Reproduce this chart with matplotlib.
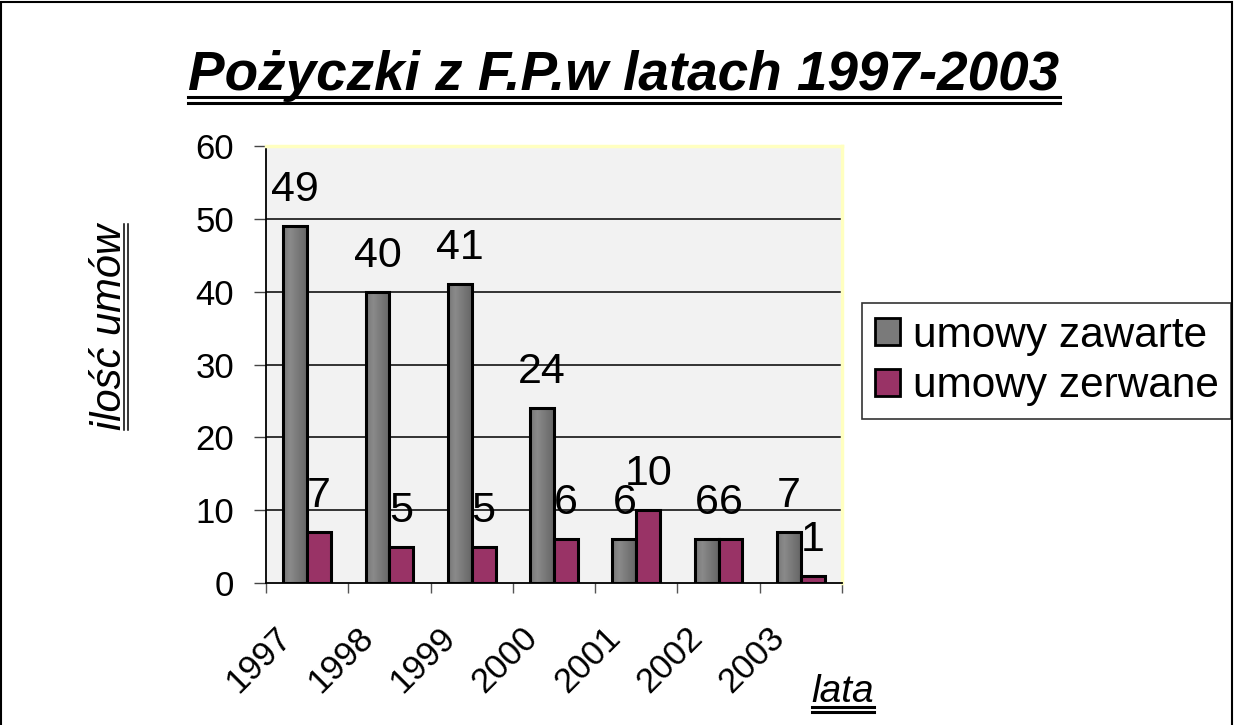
import numpy as np
import matplotlib
matplotlib.use('Agg')
import matplotlib.pyplot as plt
from matplotlib.patches import Patch, Rectangle
from matplotlib.lines import Line2D
from matplotlib.colors import LinearSegmentedColormap
import matplotlib.transforms as mtransforms

# dane z wykresu
lata = ['1997', '1998', '1999', '2000', '2001', '2002', '2003']
zawarte = [49, 40, 41, 24, 6, 6, 7]
zerwane = [7, 5, 5, 6, 10, 6, 1]
serie = ['umowy zawarte', 'umowy zerwane']
y_ticks = [0, 10, 20, 30, 40, 50, 60]

plt.rcParams['font.family'] = ['Liberation Sans', 'DejaVu Sans']

W, H = 1234, 725
fig = plt.figure(figsize=(W / 100, H / 100), dpi=100)
fig.patch.set_facecolor('white')


def px(x, y):
    # piksele (od lewego gornego rogu) -> wspolrzedne figury
    return x / W, 1 - y / H


ax = fig.add_axes([266 / W, 1 - 583 / H, (842 - 266) / W, (583 - 146) / H])
ax.set_facecolor('#F2F2F2')

x = np.arange(len(lata))
w = 0.29
szary = '#7a7a7a'
bordo = '#993366'

bars1 = ax.bar(x - w / 2, zawarte, w, facecolor='none', edgecolor='black',
               linewidth=2.2, zorder=3)
bars2 = ax.bar(x + w / 2, zerwane, w, facecolor=bordo, edgecolor='black',
               linewidth=2.2, zorder=3)

# gradient na szarych slupkach
cmap = LinearSegmentedColormap.from_list(
    'g', [(0, '#777777'), (0.3, '#8a8a8a'), (1, '#666666')])
grad = np.linspace(0, 1, 64).reshape(1, -1)
for b in bars1:
    bx, bw, bh = b.get_x(), b.get_width(), b.get_height()
    im = ax.imshow(grad, cmap=cmap, aspect='auto', zorder=2,
                   extent=(bx, bx + bw, 0, bh), interpolation='bilinear')
    im.set_clip_path(b)

ax.set_xlim(-0.5, len(lata) - 0.5)
ax.set_ylim(0, 60)

for yv in y_ticks[1:-1]:
    ax.axhline(yv, color='black', lw=1.1, zorder=1)

ax.set_yticks(y_ticks)
ax.tick_params(axis='y', direction='out', length=9, width=1, color='#444444',
               pad=14, labelsize=25)
ax.set_xticks(np.arange(-0.5, len(lata), 1))
ax.set_xticklabels([])
ax.tick_params(axis='x', direction='out', length=7, width=1, color='#555555')

for s in ['left', 'bottom']:
    ax.spines[s].set_color('black')
    ax.spines[s].set_linewidth(1.3)
for s in ['top', 'right']:
    ax.spines[s].set_color('#FFFFC0')
    ax.spines[s].set_linewidth(2.5)

# etykiety lat
off = mtransforms.ScaledTranslation(-33 / 100, -38 / 100, fig.dpi_scale_trans)
for i, rok in enumerate(lata):
    ax.text(i, 0, rok, transform=ax.get_xaxis_transform() + off,
            rotation=45, rotation_mode='anchor', ha='right', va='top',
            fontsize=25)

# wartosci nad slupkami
for xs, vals in [(x - w / 2, zawarte), (x + w / 2, zerwane)]:
    for xi, v in zip(xs, vals):
        ax.annotate(str(v), (xi, v), xytext=(0, 18), textcoords='offset points',
                    ha='center', va='baseline', fontsize=31)

# legenda
uchwyty = [Patch(facecolor=szary, edgecolor='black', linewidth=2),
           Patch(facecolor=bordo, edgecolor='black', linewidth=2)]
leg = fig.legend(uchwyty, serie, loc='upper left', bbox_to_anchor=px(862, 303),
                 fontsize=30.5, frameon=True, fancybox=False, edgecolor='black',
                 handlelength=0.6, handleheight=0.6, handletextpad=0.3,
                 labelspacing=0.25, borderpad=0.3, borderaxespad=0)
leg.get_frame().set_linewidth(1.2)

# tytul i opisy osi
t_title = fig.text(*px(624, 90), 'Pożyczki z F.P.w latach 1997-2003',
                   ha='center', va='baseline', fontsize=39.5,
                   fontweight='bold', fontstyle='italic')
t_y = fig.text(*px(121, 327), 'ilość umów', rotation=90, rotation_mode='anchor',
               ha='center', va='baseline', fontsize=30, fontstyle='italic')
t_x = fig.text(*px(843, 702), 'lata', ha='center', va='baseline',
               fontsize=28, fontstyle='italic')

fig.canvas.draw()
r = fig.canvas.get_renderer()


def podkresl_poziomo(t, ybase, d1, d2, lw):
    bb = t.get_window_extent(r)
    x0, x1 = bb.x0 / W, bb.x1 / W
    for d in (d1, d2):
        yy = 1 - (ybase + d) / H
        fig.add_artist(Line2D([x0, x1], [yy, yy], color='black', lw=lw))


podkresl_poziomo(t_title, 90, 7, 13, 2.2)
podkresl_poziomo(t_x, 702, 5, 10, 2.2)

bb = t_y.get_window_extent(r)
for xx in (124, 128):
    fig.add_artist(Line2D([xx / W, xx / W], [bb.y0 / H, bb.y1 / H],
                          color='black', lw=1.1))

# ramka wokol calego obrazka
fig.add_artist(Rectangle((0.0008, -0.05), 0.9975, 1.047, transform=fig.transFigure,
                         fill=False, edgecolor='black', lw=1.5))

fig.savefig('out.png', dpi=100)
